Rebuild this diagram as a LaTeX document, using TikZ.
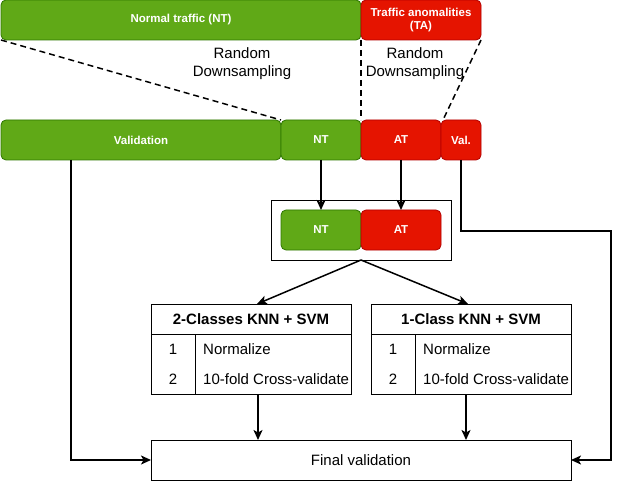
\documentclass[tikz,border=0pt]{standalone}
\usepackage{fontspec}
\setmainfont{Liberation Sans}
\usetikzlibrary{arrows.meta, positioning}

\definecolor{ntgreen}{HTML}{60A917}
\definecolor{ntline}{HTML}{2D7600}
\definecolor{tared}{HTML}{E51400}
\definecolor{taline}{HTML}{B20000}

\tikzset{
	part/.style = {rectangle, rounded corners=5pt, minimum height=40pt, inner sep=0pt, outer sep=0pt, line width=0.8pt, text=white, align=center, font=\fontsize{11.5}{13}\selectfont\bfseries},
	normal/.style = {part, fill=ntgreen, draw=ntline},
	anomal/.style = {part, fill=tared, draw=taline},
	plain/.style = {draw, rectangle, inner sep=0pt, outer sep=0pt, line width=0.8pt, font=\fontsize{15}{17}\selectfont},
	link/.style = {->, line width=1.5pt},
	cut/.style = {line width=1.5pt, dash pattern=on 6pt off 4pt},
}

\begin{document}
\begin{tikzpicture}[x=1pt, y=-1pt, >={Stealth[length=10pt, width=9pt, inset=2.5pt]}]
	\useasboundingbox (0,0) rectangle (621,481);

	\node[normal, minimum width=360pt] (nt) at (181,20) {Normal traffic (NT)};
	\node[anomal, minimum width=120pt] (ta) at (421,20) {Traffic anomalities\\(TA)};

	\node[normal, minimum width=280pt] (val) at (141,140) {Validation};
	\node[normal, minimum width=80pt, right=0pt of val] (nt1) {NT};
	\node[anomal, minimum width=80pt, right=0pt of nt1] (at1) {AT};
	\node[anomal, minimum width=40pt, right=0pt of at1] (vs) {Val.};

	\draw[cut] (nt.south west) -- (nt1.north west);
	\draw[cut] (nt.south east) -- (at1.north west);
	\draw[cut] (ta.south east) -- ([xshift=2pt]vs.north west);

	\node[font=\fontsize{15}{18}\selectfont, align=center] (rd1) at (242,64) {Random\\Downsampling};
	\node[font=\fontsize{15}{18}\selectfont, align=center] (rd2) at (415,64) {Random\\Downsampling};

	\node[plain, minimum width=180pt, minimum height=60pt] (box) at (361,230) {};
	\node[normal, minimum width=80pt] (nt2) at (321,230) {NT};
	\node[anomal, minimum width=80pt, right=0pt of nt2] (at2) {AT};

	\draw[link] (nt1) -- (nt2);
	\draw[link] (at1) -- (at2);

	\foreach \n/\x/\t in {l/251/2-Classes KNN + SVM, r/471/1-Class KNN + SVM} {
			\node[plain, minimum width=200pt, minimum height=30pt, font=\fontsize{15}{17}\selectfont\bfseries] (\n-head) at (\x,319) {\t};
			\node[plain, minimum width=200pt, minimum height=60pt, below=0pt of \n-head] (\n-body) {};
			\draw[line width=0.8pt] ([xshift=44pt]\n-body.north west) -- ([xshift=44pt]\n-body.south west);
			\node[font=\fontsize{15}{17}\selectfont] (\n-one) at ([xshift=22pt, yshift=-15pt]\n-body.north west) {1};
			\node[font=\fontsize{15}{17}\selectfont] (\n-two) at ([xshift=22pt, yshift=-45pt]\n-body.north west) {2};
			\node[font=\fontsize{15}{17}\selectfont, anchor=west, inner sep=0pt] (\n-norm) at ([xshift=52pt, yshift=-15pt]\n-body.north west) {Normalize};
			\node[font=\fontsize{15}{17}\selectfont, anchor=west, inner sep=0pt] (\n-cross) at ([xshift=52pt, yshift=-45pt]\n-body.north west) {10-fold Cross-validate};
		}

	\draw[link] (box.south) -- ([xshift=6pt]l-head.north);
	\draw[link] (box.south) -- ([xshift=-3pt]r-head.north);

	\node[plain, minimum width=420pt, minimum height=40pt] (fin) at (361,460) {Final validation};

	\draw[link] ([xshift=7pt]l-body.south) -- ([xshift=7pt]l-body.south |- fin.north);
	\draw[link] ([xshift=-5pt]r-body.south) -- ([xshift=-5pt]r-body.south |- fin.north);
	\draw[link] ([xshift=-70pt]val.south) |- (fin.west);

	\coordinate (turn) at (611,231);
	\draw[link] (vs.south) |- (turn) |- (fin.east);

\end{tikzpicture}
\end{document}
